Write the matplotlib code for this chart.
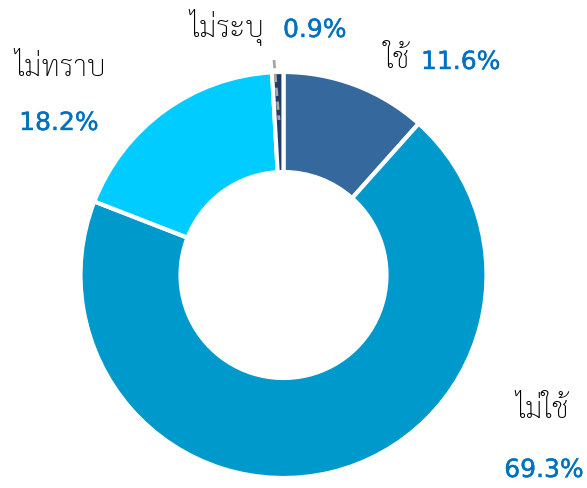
import matplotlib.pyplot as plt
import matplotlib.patheffects as pe

labels = ['ใช้', 'ไม่ใช้', 'ไม่ทราบ', 'ไม่ระบุ']
values = [11.6, 69.3, 18.2, 0.9]
colors = ['#35689c', '#0099cc', '#00ccff', '#1f3d6b']

fig = plt.figure(figsize=(5.87, 4.88), dpi=100)
ax = fig.add_axes([0, 0, 1, 1])

ax.pie(values, colors=colors, startangle=90, counterclock=False,
       center=(283.5, 213), radius=203,
       wedgeprops=dict(width=100, edgecolor='white', linewidth=3))
ax.set_xlim(0, 587)
ax.set_ylim(0, 488)
ax.axis('off')

# leader for the tiny slice
ax.plot([274, 279], [488 - 60, 488 - 120], color='#a6a6a6', lw=2, ls=(0, (3, 2)))

thai = ['Sarabun', 'Noto Sans Thai Looped', 'Noto Sans Thai', 'Anuphan', 'DejaVu Sans']
name_kw = dict(fontsize=21, color='black', family=thai, weight='light', va='center')
pct_kw = dict(fontsize=18, color='#0070c0', family=['DejaVu Sans'], va='center',
              path_effects=[pe.withStroke(linewidth=0.3, foreground='#0070c0')])

ax.text(227, 488 - 27, labels[3], ha='center', **name_kw)
ax.text(283, 488 - 30, f'{values[3]}%', ha='left', **pct_kw)
ax.text(397, 488 - 60, labels[0], ha='center', **name_kw)
ax.text(421, 488 - 62, f'{values[0]}%', ha='left', **pct_kw)
ax.text(60, 488 - 68, labels[2], ha='center', **name_kw)
ax.text(59, 488 - 123, f'{values[2]}%', ha='center', **pct_kw)
ax.text(542, 488 - 410, labels[1], ha='center', **name_kw)
ax.text(544, 488 - 470, f'{values[1]}%', ha='center', **pct_kw)

fig.savefig('out.png', dpi=100)
